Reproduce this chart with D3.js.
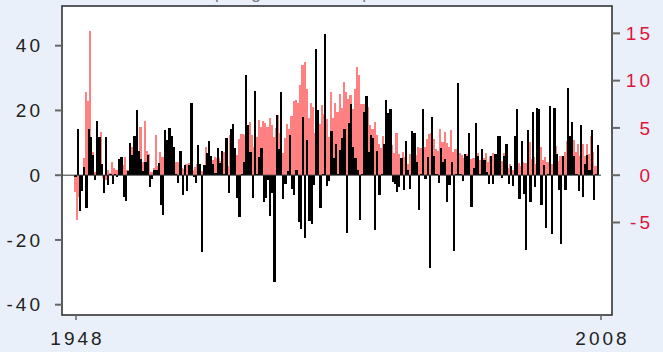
<!DOCTYPE html>
<html>
<head>
<meta charset="utf-8">
<script src="https://cdn.jsdelivr.net/npm/d3@7"></script>
<style>
  html, body { margin: 0; padding: 0; background: #eaf0fa; }
  svg { display: block; }
  text { font-family: "Liberation Sans", Arial, sans-serif; }
</style>
</head>
<body>
<svg id="chart" width="663" height="352"></svg>
<script>
// Quarterly series, 1948Q1 onward
const startYear = 1948;
const endYear = 2008;

// Left-axis series (black bars)
const seriesLeft = [
  -0.5, 14.4, -11, -5, 2.6, -10, 14.2, 11.7, 6.2, -1.5,
  16.7, 11.7, 3.4, -5.5, 11.7, -3, 0.5, -2.8, 0.4, -0.6,
  5, 5.6, -6.8, -8, 1.2, 9.9, 6.2, 12, 20, 7.4,
  5, 1.2, 4.1, 6.2, -3.6, -1.3, 1.5, 1.5, 3.7, -9.3,
  -12.3, 14, 10.8, 14.5, 12, 8.7, 0.5, -2.4, 7.4, -6.2,
  3.1, -4.8, 3.1, 22.3, -0.5, -2.4, 9.3, 3.4, -23.7, 3.1,
  6.8, 10.5, 5.9, 3.4, 0.6, 8.4, 3.7, 7.4, 0.5, 11.4,
  -5.6, 14.2, 15.8, 8.4, -7.1, -13, 0.5, 4, 30.9, 15.5,
  7.1, -7.1, 26, 0.5, 5.6, 8.4, -8.2, -7.1, -1.5, -12.6,
  -5.6, -33, 18.6, 8.2, 25.7, -7.3, -2.8, 1.2, 12.4, -4.2,
  -6.1, 1.5, -14.4, -16.5, 17.9, -19.4, 10.8, -14.1, -15, -3.1,
  39, 20.1, -10.2, 0.3, 43.6, -3.3, -1.8, 13.6, 5.3, 9.6,
  0.5, 7.7, 11.4, 14.2, -17.9, 16.1, 22, 8.7, 5.3, 1.5,
  -13.8, 0.5, 19.5, 24.4, 7.1, 12.4, 11.4, -16.9, 7.4, -6.2,
  0.5, 9.6, 23.2, 19.2, 20.4, -2, -2.7, -5.2, -3.6, 5.3,
  -4.5, 10.5, 1.5, -4.2, 13.6, 13, 4, -10.7, 0.5, 20.4,
  -1.1, 5.6, -28.7, 17.9, 5.9, 0.5, -2.4, 8.4, 4, 5,
  -8.2, -3, 4, -23.4, 0.5, 28.5, 0.3, -1.8, 6.5, 5.9,
  13, -9.8, 2.2, 16.1, 5.9, 0.5, 8, 4.6, 0.9, -2.7,
  5.9, -2.7, 6.5, 12, 12, -0.8, 5.9, 9.6, -2.7, 2.8,
  -3.3, 12, 20.4, -7.3, 10.5, -5.8, -23.1, 13.9, -8.2, 19.5,
  -3.6, 20.7, 20.4, -9.2, 3.1, -16.3, 0.3, 21.3, -18.1, 20.7,
  6.5, -4.5, -21.2, 5.9, -4.5, 26.9, 12, 16.4, 5.9, 0.5,
  -4.8, 15.5, -6.7, 3.4, 6.2, 1.5, 13.9, -7.6, 0.5, 9.3
];

// Right-axis series (red bars)
const seriesRight = [
  -1.8, -4.7, -2.3, -1.5, 1.8, 8.8, 7.8, 15.2, 2.5, 0.3,
  4.5, 0.5, 4.6, -0.3, -0.5, 0.6, 0.2, 1.4, 0.8, 0.5,
  0.3, 0.5, 1.05, 1.9, 0.5, 2.1, 3.0, 3.9, 2.25, 1.3,
  5.1, 1.4, 5.7, 2.6, 2.25, 0.3, 0.8, 4.3, 1, 2.5,
  1.9, 0.8, 0.5, 1.6, 1, 1.3, 1.4, 1.4, 0.8, 0.8,
  0.7, 1.2, 1.3, 2.3, 0.6, 0.85, 1.2, 0.6, 0.4, 0.6,
  3.0, 2.0, 0.74, 1.6, 1.9, 1.8, 1.8, 1.5, 2.5, 2.6,
  1.0, 4.2, 1.5, 2.0, 2.1, 3.8, 4.4, 4.4, 4.2, 4.2,
  5.6, 4.2, 3.0, 4.0, 5.8, 5.1, 5.7, 5.5, 5.1, 6.1,
  5.3, 4.0, 5.0, 6.4, 4.5, 2.3, 3.9, 5.4, 4.9, 6.3,
  7.8, 8.0, 7.6, 9.5, 11.7, 12.0, 9.1, 6.1, 7.6, 7.2,
  4.5, 4.2, 5.4, 7.4, 6.5, 5.9, 4.0, 8.8, 6.0, 7.6,
  6.7, 8.6, 7.1, 9.9, 8.8, 8.1, 8.5, 7.0, 9.1, 11.4,
  10.6, 7.5, 7.5, 6.0, 7.2, 5.3, 4.9, 5.6, 4.2, 3.3,
  2.85, 4.1, 3.1, 5.0, 3.5, 3.2, 2.4, 4.5, 2.2, 1.6,
  2.5, 1.9, 1.2, 2.2, 2.0, 3.3, 2.1, 3.0, 2.85, 3.3,
  3.0, 3.8, 4.4, 4.5, 3.8, 2.75, 2.6, 4.9, 3.5, 4.6,
  3.4, 3.0, 4.75, 2.5, 2.75, 2.0, 2.3, 2.1, 1.8, 2.2,
  3.1, 1.7, 1.8, 1.8, 2.3, 1.6, 2.4, 1.8, 2.4, 1.4,
  2.0, 2.4, 1.4, 1.5, 2.0, 1.5, 2.4, 0.5, 0.8, 1.2,
  0.5, 1.0, 1.4, 1.3, 1.0, 1.4, 1.3, 1.7, 3.5, 1.7,
  1.9, 1.2, 3.2, 3.0, 1.6, 1.9, 1.4, 1.0, 1.2, 2.1,
  3.1, 1.5, 2.0, 2.0, 2.5, 3.6, 3.6, 2.1, 3.7, 2.5,
  3.3, 2.0, 3.3, 2.0, 3.3, 2.2, 4.1, 2.5, 0.95, 2.3
];

const leftTicks = [-40, -20, 0, 20, 40];
const rightTicks = [-5, 0, 5, 10, 15];
const xTicks = [1948, 2008];
const titleText = "Output growth and price inflation";

const svg = d3.select("#chart");

const panel = { left: 62, right: 612, top: 6, bottom: 315 };

const x = d3.scaleLinear().domain([startYear, endYear]).range([76, 601]);
const yL = d3.scaleLinear().domain([-43.18, 52.26]).range([panel.bottom, panel.top]);
const yR = d3.scaleLinear().domain([-14.78, 17.89]).range([panel.bottom, panel.top]);

// Title (sits above the panel, mostly off the top edge)
svg.append("text")
  .attr("x", 337).attr("y", -1)
  .attr("text-anchor", "middle")
  .attr("font-size", 17)
  .attr("fill", "#777")
  .attr("letter-spacing", 2)
  .text(titleText);

// Plot panel
svg.append("rect")
  .attr("x", panel.left).attr("y", panel.top)
  .attr("width", panel.right - panel.left)
  .attr("height", panel.bottom - panel.top)
  .attr("fill", "#ffffff");

const dates = seriesLeft.map((_, i) => startYear + i / 4);
const bw = x(startYear + 0.25) - x(startYear);

// Red bars (right axis) drawn first, black bars on top
svg.append("g")
  .attr("shape-rendering", "crispEdges")
  .selectAll("rect")
  .data(seriesRight)
  .join("rect")
  .attr("x", (d, i) => x(dates[i]) - bw)
  .attr("width", bw)
  .attr("y", d => yR(Math.max(0, d)))
  .attr("height", d => Math.abs(yR(d) - yR(0)))
  .attr("fill", "#ff8080");

svg.append("g")
  .attr("shape-rendering", "crispEdges")
  .selectAll("rect")
  .data(seriesLeft)
  .join("rect")
  .attr("x", (d, i) => x(dates[i]) - bw + 0.6)
  .attr("width", bw)
  .attr("y", d => yL(Math.max(0, d)))
  .attr("height", d => Math.abs(yL(d) - yL(0)))
  .attr("fill", "#000000");

// Zero baseline
svg.append("line")
  .attr("x1", panel.left).attr("x2", x(endYear))
  .attr("y1", yL(0)).attr("y2", yL(0))
  .attr("stroke", "#333").attr("stroke-width", 1);

// Panel border
svg.append("rect")
  .attr("x", panel.left).attr("y", panel.top)
  .attr("width", panel.right - panel.left)
  .attr("height", panel.bottom - panel.top)
  .attr("fill", "none")
  .attr("stroke", "#333")
  .attr("stroke-width", 1.6);

const fontSize = 19;

// Left axis
const axL = svg.append("g");
axL.selectAll("line").data(leftTicks).join("line")
  .attr("x1", panel.left - 7).attr("x2", panel.left)
  .attr("y1", d => yL(d)).attr("y2", d => yL(d))
  .attr("stroke", "#666").attr("stroke-width", 2);
axL.selectAll("text").data(leftTicks).join("text")
  .attr("x", 43).attr("y", d => yL(d))
  .attr("dy", "0.35em")
  .attr("text-anchor", "end")
  .attr("font-size", fontSize)
  .attr("letter-spacing", 3)
  .attr("fill", "#222")
  .text(d => d);

// Right axis
const axR = svg.append("g");
axR.selectAll("line").data(rightTicks).join("line")
  .attr("x1", panel.right).attr("x2", panel.right + 8)
  .attr("y1", d => yR(d)).attr("y2", d => yR(d))
  .attr("stroke", "#666").attr("stroke-width", 2);
axR.selectAll("text").data(rightTicks).join("text")
  .attr("x", 653).attr("y", d => yR(d))
  .attr("dy", "0.35em")
  .attr("text-anchor", "end")
  .attr("font-size", fontSize)
  .attr("letter-spacing", 3)
  .attr("fill", "#e0143c")
  .text(d => d);

// Bottom axis
const axB = svg.append("g");
axB.selectAll("line").data(xTicks).join("line")
  .attr("x1", d => x(d)).attr("x2", d => x(d))
  .attr("y1", panel.bottom).attr("y2", panel.bottom + 5)
  .attr("stroke", "#666").attr("stroke-width", 1.5);
axB.selectAll("text").data(xTicks).join("text")
  .attr("x", d => x(d) + 1.5).attr("y", 345)
  .attr("text-anchor", "middle")
  .attr("font-size", fontSize)
  .attr("letter-spacing", 3)
  .attr("fill", "#222")
  .text(d => d);
</script>
</body>
</html>
